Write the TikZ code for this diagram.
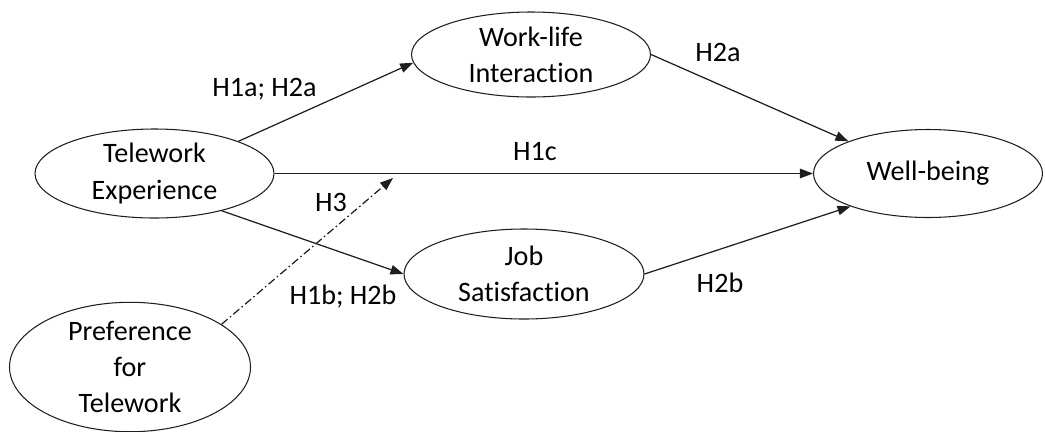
\documentclass[tikz,border=0pt]{standalone}
\usepackage{fontspec}
\setmainfont{Carlito}[Ligatures={NoCommon}]
\usetikzlibrary{shapes.geometric,arrows.meta,positioning,calc}
\definecolor{linecolor}{RGB}{30,30,30}

\begin{document}
\begin{tikzpicture}[
construct/.style={
  draw=linecolor,
  line width=0.6pt,
  ellipse,
  inner sep=0pt,
  align=center,
  font=\fontsize{16}{20.5}\selectfont
},
path/.style={
  draw=linecolor,
  line width=0.7pt,
  -{Triangle[length=0.26cm,width=0.19cm]}
},
hyp/.style={font=\fontsize{16}{19}\selectfont}
]

% Frame
\useasboundingbox (0,0) rectangle (20.9,-8.62);

% Constructs
\node[construct, minimum width=4.78cm, minimum height=1.78cm] (tele) at (3.09,-3.47)
{Telework\\Experience};
\node[construct, minimum width=4.78cm, minimum height=1.70cm] (worklife) at (10.62,-1.09)
{Work-life\\Interaction};
\node[construct, minimum width=4.80cm, minimum height=1.80cm] (jobsat) at (10.48,-5.48)
{Job\\Satisfaction};
\node[construct, minimum width=4.58cm, minimum height=1.76cm] (wellbeing) at (18.56,-3.47)
{Well-being};
\node[construct, minimum width=4.82cm, minimum height=2.40cm] (pref) at (2.60,-7.34)
{Preference\\for\\Telework};

% Moderation target
\coordinate (modtip) at (7.86,-3.56);

% Paths
\draw[path] (tele.21) -- (worklife.184);
\draw[path] (tele.-29) -- (jobsat.west);
\draw[path] (tele.east) -- (wellbeing.west);
\draw[path] (worklife.east) -- (wellbeing.158);
\draw[path] (jobsat.east) -- (wellbeing.203);
\draw[path, dash pattern=on 4.5pt off 1.7pt on 0.9pt off 1.7pt] (pref.25) -- (modtip);

% Hypotheses
\node[hyp] (h1a) at (5.29,-1.78) {H1a; H2a};
\node[hyp] (h1c) at (10.70,-3.04) {H1c};
\node[hyp] (h3) at (6.62,-4.04) {H3};
\node[hyp] (h1b) at (6.86,-5.94) {H1b; H2b};
\node[hyp] (h2a) at (14.36,-1.04) {H2a};
\node[hyp] (h2b) at (14.40,-5.66) {H2b};

\end{tikzpicture}
\end{document}
